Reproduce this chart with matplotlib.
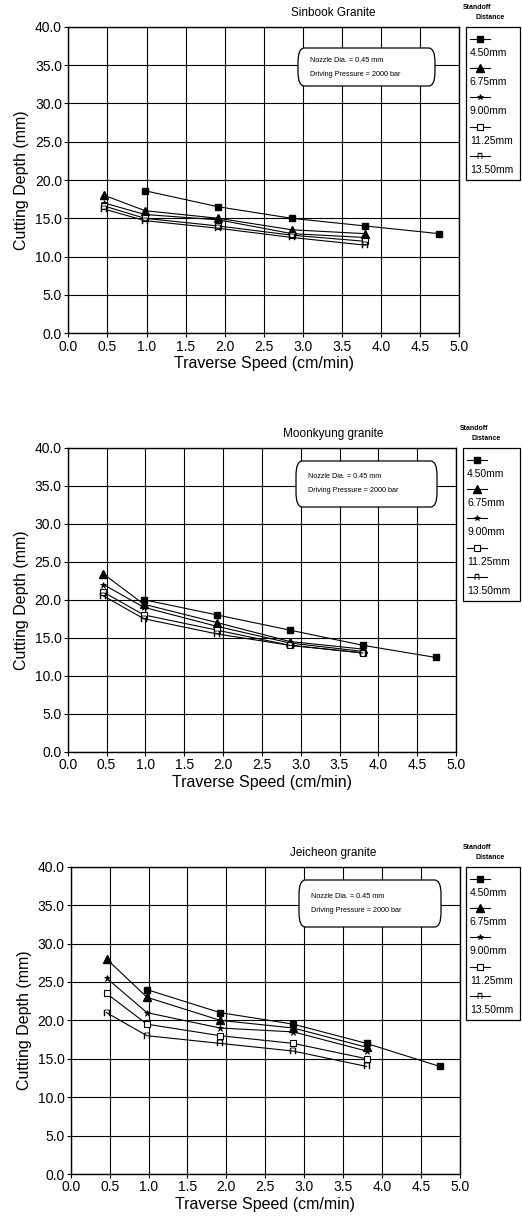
import matplotlib
matplotlib.use("Agg")
import matplotlib.pyplot as plt
from matplotlib.lines import Line2D
from matplotlib.patches import Rectangle, FancyBboxPatch

plt.rcParams['font.family'] = ['Liberation Sans', 'DejaVu Sans']

# ---- data -------------------------------------------------------------
speed = [0.46, 0.98, 1.92, 2.86, 3.80, 4.74]          # traverse speed (cm/min)
standoff = ["4.50mm", "6.75mm", "9.00mm", "11.25mm", "13.50mm"]
rocks = ["Sinbook Granite", "Moonkyung granite", "Jeicheon granite"]

# Sinbook granite, cutting depth (mm); None = not measured
sinbook_450 = [None, 18.6, 16.5, 15.0, 14.0, 13.0]
sinbook_675 = [18.0, 16.0, 15.0, 13.5, 13.0, None]
sinbook_900 = [17.0, 15.5, 14.8, 13.0, 12.5, None]
sinbook_1125 = [16.6, 15.0, 14.0, 12.8, 12.0, None]
sinbook_1350 = [16.2, 14.7, 13.7, 12.5, 11.5, None]

# Moonkyung granite
moonkyung_450 = [None, 20.0, 18.0, 16.0, 14.0, 12.4]
moonkyung_675 = [23.4, 19.4, 17.0, 14.5, 13.5, None]
moonkyung_900 = [22.0, 19.0, 16.5, 14.3, 13.2, None]
moonkyung_1125 = [21.0, 18.0, 16.0, 14.0, 13.0, None]
moonkyung_1350 = [20.5, 17.5, 15.5, 14.0, 13.0, None]

# Jeicheon granite
jeicheon_450 = [None, 24.0, 21.0, 19.5, 17.0, 14.0]
jeicheon_675 = [28.0, 23.0, 20.0, 19.0, 16.5, None]
jeicheon_900 = [25.5, 21.0, 19.0, 18.5, 16.0, None]
jeicheon_1125 = [23.5, 19.5, 18.0, 17.0, 15.0, None]
jeicheon_1350 = [21.0, 18.0, 17.0, 16.0, 14.0, None]

panels = [
    [sinbook_450, sinbook_675, sinbook_900, sinbook_1125, sinbook_1350],
    [moonkyung_450, moonkyung_675, moonkyung_900, moonkyung_1125, moonkyung_1350],
    [jeicheon_450, jeicheon_675, jeicheon_900, jeicheon_1125, jeicheon_1350],
]

x_ticks = [0.0, 0.5, 1.0, 1.5, 2.0, 2.5, 3.0, 3.5, 4.0, 4.5, 5.0]
y_ticks = [0.0, 5.0, 10.0, 15.0, 20.0, 25.0, 30.0, 35.0, 40.0]

# ---- styles -----------------------------------------------------------
styles = [
    dict(marker='s', ms=4.5, mfc='black', mec='black'),
    dict(marker='^', ms=6.0, mfc='black', mec='black'),
    dict(marker='*', ms=4.5, mfc='black', mec='black', mew=0.5),
    dict(marker='s', ms=4.5, mfc='white', mec='black', mew=0.8),
    dict(marker='$\\Pi$', ms=5.0, mfc='black', mec='black', mew=0.3),
]

W, H = 522, 1217
fig = plt.figure(figsize=(W / 100, H / 100), dpi=100)

# axes boxes in pixels: left, right, top, bottom
ax_px = [(68.3, 459.3, 26.7, 333.3),
         (67.7, 456.0, 447.7, 751.7),
         (70.7, 460.0, 866.7, 1174.0)]
note_px = [(298, 435, 48, 86), (296, 437, 461, 507), (299, 441, 880, 927)]
legend_left = [466, 463, 466]


def fx(px):
    return px / W


def fy(py):
    return 1 - py / H


for k, (series, (l, r, t, b)) in enumerate(zip(panels, ax_px)):
    ax = fig.add_axes([fx(l), fy(b), fx(r) - fx(l), fy(t) - fy(b)])
    for vals, st in zip(series, styles):
        xs = [s for s, v in zip(speed, vals) if v is not None]
        ys = [v for v in vals if v is not None]
        ax.plot(xs, ys, color='black', lw=0.8, zorder=3, **st)

    ax.set_xlim(0, 5)
    ax.set_ylim(0, 40)
    ax.set_xticks(x_ticks)
    ax.set_yticks(y_ticks)
    ax.set_xticklabels([f"{v:.1f}" for v in x_ticks])
    ax.set_yticklabels([f"{v:.1f}" for v in y_ticks])
    ax.grid(True, color='black', lw=0.8)
    ax.set_axisbelow(True)
    for sp in ax.spines.values():
        sp.set_linewidth(1.0)
    ax.tick_params(direction='out', length=3, width=0.8, labelsize=10, pad=1.5)
    ax.set_xlabel("Traverse Speed (cm/min)", fontsize=11.5, labelpad=2)
    ax.set_ylabel("Cutting Depth (mm)", fontsize=11.5, labelpad=4)

    # panel title
    fig.text(fx(333), fy(t - 14), rocks[k], ha='center', va='center', fontsize=8.5)

    # test-condition note
    nl, nr, nt, nb = note_px[k]
    fig.patches.append(FancyBboxPatch((fx(nl), fy(nb)), fx(nr) - fx(nl), fy(nt) - fy(nb),
                                      boxstyle="round,pad=0,rounding_size=0.012",
                                      transform=fig.transFigure, fc='white', ec='black',
                                      lw=0.9, zorder=5))
    ny = (nt + nb) / 2
    fig.text(fx(nl + 12), fy(ny - 7), "Nozzle Dia. = 0.45 mm", fontsize=5.2,
             va='center', ha='left', zorder=6)
    fig.text(fx(nl + 12), fy(ny + 7), "Driving Pressure = 2000 bar", fontsize=5.2,
             va='center', ha='left', zorder=6)

    # legend
    ll = legend_left[k]
    fig.text(fx(ll - 3), fy(t - 19), "Standoff", fontsize=5, fontweight='bold',
             ha='left', va='center')
    fig.text(fx(ll + 9), fy(t - 9), "Distance", fontsize=5, fontweight='bold',
             ha='left', va='center')
    fig.patches.append(Rectangle((fx(ll), fy(t + 153)), fx(520) - fx(ll), fy(t) - fy(t + 153),
                                 transform=fig.transFigure, fc='white', ec='black', lw=0.9))
    for i, (name, st) in enumerate(zip(standoff, styles)):
        my = t + 12 + 29.3 * i
        fig.add_artist(Line2D([fx(ll + 4), fx(ll + 24)], [fy(my), fy(my)],
                              transform=fig.transFigure, color='black', lw=0.8))
        fig.add_artist(Line2D([fx(ll + 14)], [fy(my)], transform=fig.transFigure,
                              color='black', lw=0, **{**st, 'ms': st['ms'] * 0.9}))
        fig.text(fx(ll + 4), fy(my + 14), name, fontsize=7.5, ha='left', va='center')

fig.savefig("out.png", dpi=100)
